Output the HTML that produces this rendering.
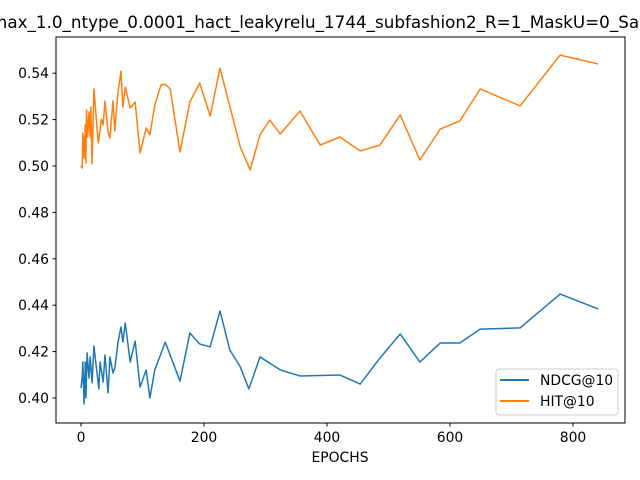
<!DOCTYPE html>
<html><head><meta charset="utf-8"><style>
html,body{margin:0;padding:0;background:#fff;}
svg{display:block;font-family:"DejaVu Sans","Liberation Sans",sans-serif;}
</style></head><body>
<svg id="chart" width="640" height="480" viewBox="0 0 640 480">
<rect width="640" height="480" fill="#fff"/>
<text x="-9" y="28" font-size="16.7" textLength="655" lengthAdjust="spacingAndGlyphs">max_1.0_ntype_0.0001_hact_leakyrelu_1744_subfashion2_R=1_MaskU=0_Sar</text>
<g id="plot"></g>
<rect x="56" y="37" width="569" height="386" fill="none" stroke="#000" stroke-width="1"/>
<text x="340" y="462" font-size="13.9" text-anchor="middle">EPOCHS</text>
<g>
<rect x="496" y="369" width="122" height="46" rx="3" fill="#fff" fill-opacity="0.8" stroke="#ccc"/>
<line x1="500" y1="380" x2="529" y2="380" stroke="#1f77b4" stroke-width="2"/>
<text x="540" y="385" font-size="13.9">NDCG@10</text>
<line x1="500" y1="401" x2="529" y2="401" stroke="#ff7f0e" stroke-width="2"/>
<text x="540" y="406" font-size="13.9">HIT@10</text>
</g>
</svg>
<script>
const ndcgX=[0,2,3,5,7,8,10,13,15,18,21,24,29,31,36,39,44,47,52,55,60,65,68,72,80,88,96,106,112,120,137,161,177,193,210,226,242,259,273,291,324,356,421,454,486,519,551,584,616,649,714,779,841];
const ndcgY=[.4043,.4091,.4155,.3974,.4155,.4000,.4194,.4086,.4177,.4065,.4224,.4155,.4039,.4155,.4069,.4185,.4022,.4177,.4108,.4129,.4237,.4306,.4241,.4323,.4155,.4246,.4047,.4121,.4000,.4121,.4241,.4073,.4280,.4233,.4220,.4375,.4207,.4134,.4039,.4177,.4121,.4095,.4099,.4060,.4172,.4276,.4155,.4237,.4237,.4297,.4302,.4448,.4384];
const hitX=[0,2,3,5,7,8,9,11,13,15,16,18,21,28,29,33,36,39,44,47,52,55,60,65,68,72,80,88,96,106,112,120,130,137,145,161,177,193,210,226,259,275,291,307,324,356,389,421,454,486,519,551,584,616,649,714,779,841];
const hitY=[.5000,.4991,.5142,.5034,.5177,.5013,.5241,.5125,.5233,.5125,.5254,.5009,.5332,.5099,.5112,.5202,.5177,.5280,.5146,.5121,.5280,.5151,.5315,.5409,.5254,.5340,.5250,.5276,.5056,.5164,.5134,.5263,.5349,.5353,.5332,.5060,.5276,.5358,.5215,.5422,.5082,.4983,.5134,.5198,.5138,.5237,.5090,.5125,.5065,.5090,.5220,.5026,.5159,.5194,.5332,.5259,.5478,.5440];
const xTicks=[0,200,400,600,800];
const yTicks=[0.40,0.42,0.44,0.46,0.48,0.50,0.52,0.54];
const sx=v=>81+v*0.615;
const sy=v=>398-(v-0.40)*2320;
const NS="http://www.w3.org/2000/svg";
const plot=document.getElementById('plot');
function mk(tag,attrs){const e=document.createElementNS(NS,tag);for(const k in attrs)e.setAttribute(k,attrs[k]);plot.appendChild(e);return e;}
xTicks.forEach(t=>{
  const l=mk('line',{x1:sx(t),x2:sx(t),y1:423,y2:426.5,stroke:'#000'});
  
  
  const tx=mk('text',{x:sx(t),y:442,'font-size':13.9,'text-anchor':'middle'});
  tx.textContent=t;
  
  
});
yTicks.forEach(t=>{
  const l=mk('line',{x1:52.5,x2:56,y1:sy(t),y2:sy(t),stroke:'#000'});
  
  
  const tx=mk('text',{x:49,y:sy(t)+5,'font-size':13.9,'text-anchor':'end'});
  tx.textContent=t.toFixed(2);
  
  
});
function line(xs,ys,color,name){
  const p=mk('polyline',{points:xs.map((x,i)=>sx(x)+','+sy(ys[i])).join(' '),fill:'none',stroke:color,'stroke-width':1.5,'stroke-linejoin':'round'});
  
  
}
line(ndcgX,ndcgY,'#1f77b4','ndcg-line');
line(hitX,hitY,'#ff7f0e','hit-line');
</script>
</body></html>
